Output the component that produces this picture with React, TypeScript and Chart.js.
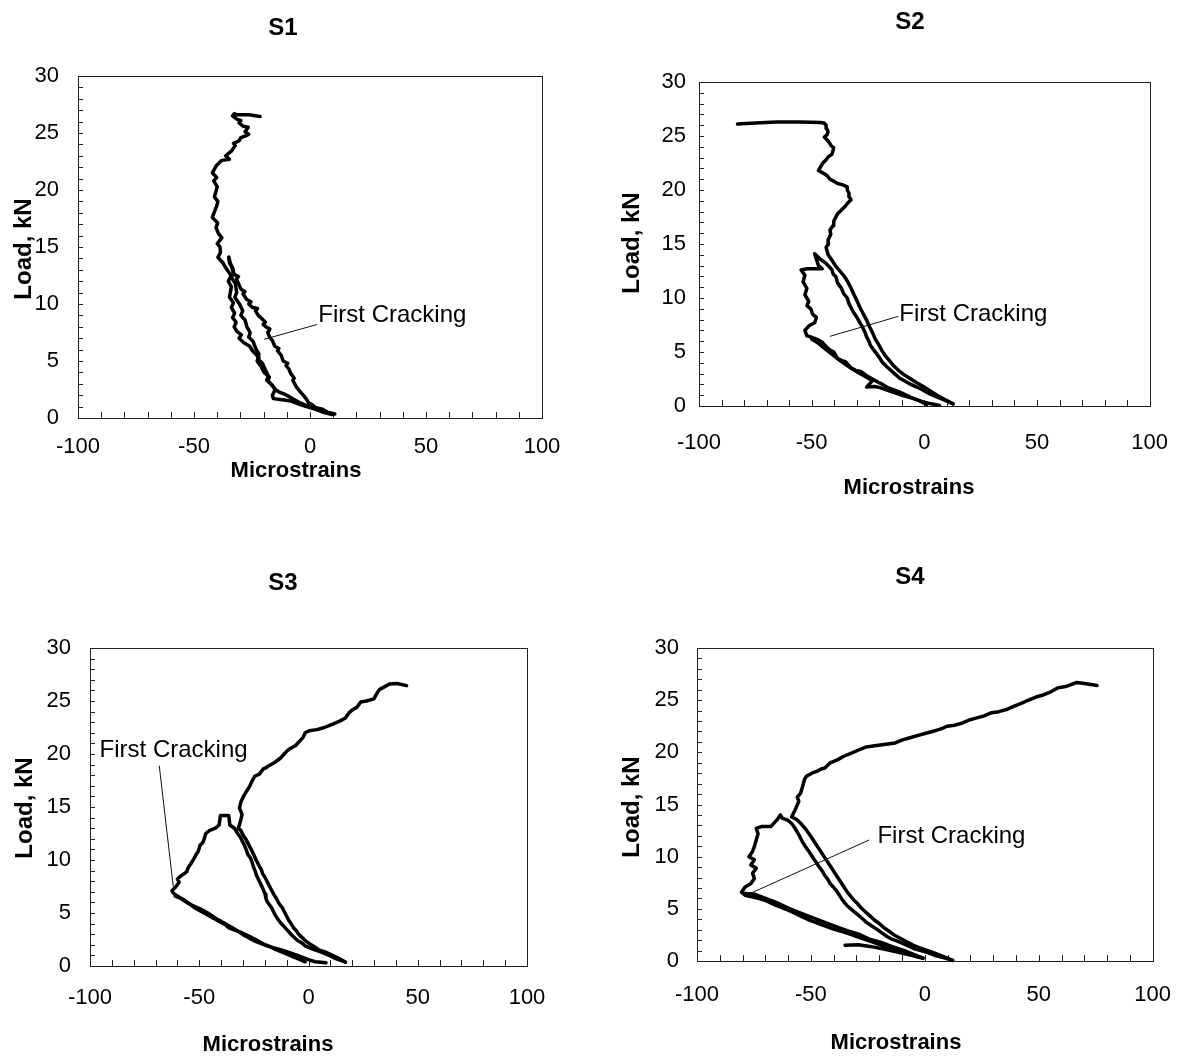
import React, { useEffect, useRef } from "react";
import { Chart, registerables } from "chart.js";

Chart.register(...registerables);

type P = [number, number];

// ---------- text ----------
const panelTitles = ["S1", "S2", "S3", "S4"];
const xAxisTitle = "Microstrains";
const yAxisTitle = "Load, kN";
const noteText = "First Cracking";

// ---------- axes ----------
const xMin = -100;
const xMax = 100;
const xLabelStep = 50;
const xMinorStep = 10;
const yMin = 0;
const yMax = 30;
const yLabelStep = 5;
const yMinorStep = 1;

// ---------- S1 data (microstrain, load kN) ----------
const s1FirstLoad: P[] = [
  [10.7, 0.35], [7.5, 0.5], [5.0, 0.8], [2.5, 0.9], [0.8, 1.2], [-0.5, 1.3], [-1.7, 1.7], [-3.3, 2.1],
  [-4.2, 2.3], [-5.8, 2.7], [-7.4, 3.3], [-6.8, 3.5], [-8.3, 3.9], [-9.1, 4.3], [-10.3, 4.6], [-9.6, 4.8],
  [-11.6, 5.0], [-12.4, 5.5], [-14.0, 5.9], [-13.4, 6.1], [-15.2, 6.3], [-16.2, 6.8], [-17.4, 7.1], [-18.2, 7.5],
  [-17.3, 7.8], [-19.0, 8.0], [-20.2, 8.2], [-19.2, 8.4], [-20.7, 8.7], [-22.3, 9.0], [-23.5, 9.4], [-22.6, 9.6],
  [-24.8, 9.7], [-26.4, 10.0], [-25.4, 10.2], [-27.3, 10.4], [-28.9, 10.9], [-28.0, 11.1], [-29.8, 11.3], [-30.6, 11.7],
  [-31.7, 12.2], [-30.8, 12.4], [-32.7, 12.6], [-33.4, 13.2], [-34.7, 13.6], [-35.0, 14.1],
];
const s1Unload: P[] = [
  [-35.0, 14.1], [-34.2, 13.5], [-33.0, 12.8], [-33.8, 12.3], [-32.2, 11.8], [-31.6, 11.0], [-32.4, 10.6], [-30.4, 10.0],
  [-29.0, 9.4], [-29.8, 9.0], [-28.0, 8.6], [-27.2, 8.0], [-25.8, 7.5], [-26.4, 7.1], [-24.5, 6.7], [-23.4, 6.1],
  [-22.0, 5.6], [-22.6, 5.2], [-20.5, 4.8], [-19.2, 4.2], [-18.0, 3.7], [-18.6, 3.3], [-16.4, 2.9], [-15.0, 2.5],
  [-16.2, 2.0], [-15.8, 1.7], [-12.0, 1.6], [-8.3, 1.5], [-4.5, 1.2], [-1.5, 1.0], [2.0, 0.8], [5.5, 0.6], [9.5, 0.35],
];
const s1FinalLoad: P[] = [
  [9.5, 0.3], [5, 0.55], [0, 0.95], [-4, 1.3], [-8, 1.75], [-11, 2.1], [-13.5, 2.3], [-14.9, 2.5],
  [-16.5, 2.9], [-18.2, 3.3], [-17.5, 3.6], [-19.8, 4.0], [-21.0, 4.5], [-22.8, 5.0], [-22.0, 5.3], [-24.8, 5.9],
  [-26.0, 6.3], [-28.5, 6.6], [-30.6, 7.0], [-29.6, 7.3], [-31.5, 7.6], [-32.7, 8.0], [-31.8, 8.4], [-33.4, 8.8],
  [-32.5, 9.2], [-33.9, 9.7], [-33.0, 10.1], [-34.7, 10.6], [-33.9, 11.5], [-35.2, 12.0], [-34.0, 12.5], [-36.4, 13.2],
  [-37.5, 13.6], [-39.7, 14.1], [-38.6, 14.5], [-38.8, 15.0], [-40.0, 15.3], [-38.0, 15.8], [-39.5, 16.2], [-40.5, 16.7],
  [-39.8, 17.1], [-42.1, 17.6], [-41.0, 18.2], [-40.2, 18.6], [-39.7, 19.0], [-41.2, 19.4], [-40.5, 19.9], [-40.0, 20.3],
  [-41.5, 20.8], [-40.2, 21.1], [-42.1, 21.5], [-41.3, 21.8], [-40.5, 22.1], [-38.0, 22.6], [-34.7, 22.7], [-36.4, 23.0],
  [-33.9, 23.4], [-32.2, 23.9], [-33.0, 24.1], [-30.6, 24.3], [-29.8, 24.6], [-27.2, 24.8], [-26.4, 24.9], [-28.0, 25.1],
  [-27.3, 25.3], [-26.6, 25.5], [-28.9, 25.6], [-30.6, 25.9], [-29.8, 26.1], [-31.4, 26.2], [-33.4, 26.5], [-32.6, 26.7],
  [-31.4, 26.6], [-26.4, 26.6], [-21.5, 26.45],
];

// ---------- S2 data ----------
const s2FirstCycle: P[] = [
  [1.0, 0.15], [-0.9, 0.36], [-3.5, 0.6], [-6, 0.8], [-8.5, 1.05], [-11.1, 1.3], [-13.5, 1.5], [-16.2, 1.7],
  [-18.5, 2.0], [-20.5, 2.2], [-23, 2.5], [-25.6, 2.8], [-28.2, 3.2], [-30.5, 3.3], [-32.5, 3.5], [-35, 4.1],
  [-36.5, 4.2], [-38.5, 4.4], [-40.2, 5.0], [-42, 5.2], [-43.6, 5.5], [-45.3, 5.9], [-47.9, 6.2], [-50.4, 6.4],
  [-52.1, 6.5], [-53, 7.0], [-51.3, 7.4], [-48.7, 7.7], [-47.9, 8.2], [-49.6, 8.5], [-50.4, 9.0], [-52.1, 9.3],
  [-51.3, 9.7], [-53, 10.3], [-52.1, 10.9], [-53.8, 11.5], [-53, 12.1], [-54.7, 12.6], [-52, 12.7], [-49.6, 12.7],
  [-45.3, 12.7], [-47, 13.0], [-47.9, 13.6], [-48.7, 14.1], [-46.2, 13.6], [-43.6, 13.2], [-42.2, 12.9], [-41, 12.6],
  [-40.4, 12.2], [-39.3, 12.0], [-38.5, 11.4], [-36.8, 10.9], [-35.8, 10.4], [-34.2, 10.0], [-33.5, 9.5], [-32.5, 9.1],
  [-31.5, 8.7], [-29.9, 8.2], [-28.8, 7.8], [-27.4, 7.3], [-26.5, 6.9], [-25.6, 6.4], [-24.6, 6.0], [-23.9, 5.6],
  [-22.5, 5.2], [-21.4, 4.9], [-20.0, 4.5], [-18.8, 4.1], [-17.0, 3.7], [-15.4, 3.4], [-13.2, 3.0], [-11.1, 2.6],
  [-8.5, 2.3], [-6, 2.0], [-3.8, 1.8], [-1.7, 1.6], [0.5, 1.35], [2.6, 1.1], [5, 0.9], [7.7, 0.66], [10, 0.45], [12.8, 0.2],
];
const s2FinalLoad: P[] = [
  [12.8, 0.2], [9.5, 0.55], [6, 0.95], [3, 1.35], [0, 1.75], [-3, 2.1], [-6, 2.5], [-9, 2.9],
  [-11.5, 3.3], [-13.5, 3.7], [-15.5, 4.2], [-17.5, 4.7], [-19, 5.2], [-20.3, 5.7], [-21.8, 6.2], [-23, 6.8],
  [-24.2, 7.3], [-25.5, 7.9], [-27, 8.5], [-28.5, 9.1], [-29.8, 9.7], [-31.2, 10.3], [-32.5, 10.9], [-34, 11.5],
  [-35.5, 12.0], [-37.5, 12.5], [-39.5, 13.0], [-41, 13.5], [-42.7, 14.0], [-43.6, 14.7], [-42.5, 15.0], [-42.7, 15.4],
  [-41.5, 15.9], [-41.9, 16.3], [-40.5, 16.7], [-40.2, 17.1], [-39.5, 17.4], [-38.5, 17.8], [-37, 18.1], [-35.1, 18.5],
  [-34, 18.8], [-32.5, 19.1], [-33.5, 19.4], [-33.4, 19.7], [-34.2, 20.0], [-34.2, 20.3], [-36.5, 20.5], [-38.5, 20.6],
  [-40, 20.8], [-41.9, 21.0], [-43, 21.3], [-44.4, 21.5], [-46, 21.7], [-47, 21.8], [-46.2, 22.1], [-45, 22.5],
  [-43.6, 22.8], [-42.5, 23.1], [-41, 23.3], [-40.2, 23.9], [-41.3, 24.1], [-41.9, 24.3], [-43, 24.6], [-44.4, 24.9],
  [-43.2, 25.1], [-42.7, 25.4], [-43.3, 25.7], [-43.6, 26.0], [-44.5, 26.2], [-46.2, 26.25], [-55, 26.3], [-65.8, 26.3],
  [-75, 26.2], [-82.9, 26.1],
];
const s2LowerReturn: P[] = [
  [-50, 6.2], [-47, 5.8], [-44, 5.3], [-41, 4.8], [-38, 4.3], [-35, 3.85], [-32, 3.45], [-29, 3.05],
  [-26, 2.7], [-23, 2.35], [-25.6, 1.75], [-22, 1.8], [-19.7, 1.7], [-15, 1.35], [-10, 1.0], [-5, 0.7],
  [-0.9, 0.4], [3, 0.2], [6.8, 0.06],
];

// ---------- S3 data ----------
const s3FirstCycle: P[] = [
  [-1.5, 0.4], [-5, 0.7], [-8.5, 1.0], [-12, 1.3], [-15.5, 1.6], [-18, 1.85], [-20.7, 2.1], [-23, 2.35],
  [-25.1, 2.6], [-28, 2.9], [-31.2, 3.2], [-34, 3.4], [-36.5, 3.6], [-38, 3.9], [-40, 4.1], [-42, 4.35],
  [-44.4, 4.6], [-46.5, 4.85], [-48.7, 5.1], [-50.5, 5.3], [-52.2, 5.5], [-54, 5.8], [-55.7, 6.0], [-57.5, 6.25],
  [-59.2, 6.5], [-60.8, 6.7], [-61.9, 6.9], [-62.5, 7.1], [-61, 7.4], [-59.2, 7.9], [-60, 8.2], [-58.4, 8.5],
  [-57, 8.7], [-55.7, 8.9], [-55, 9.3], [-54, 9.6], [-52.2, 10.2], [-51.5, 10.5], [-50.5, 10.8], [-49.6, 11.4],
  [-48.5, 11.6], [-47.9, 11.9], [-47, 12.5], [-45.2, 12.8], [-42.6, 13.0], [-40.9, 13.3], [-40.3, 14.2], [-36.5, 14.2],
  [-36, 13.3], [-33.9, 13.0], [-32.1, 12.4], [-31, 12.1], [-30.4, 11.8], [-29.3, 11.4], [-28.6, 11.0], [-27.7, 10.5],
  [-26.6, 10.2], [-26, 9.9], [-25.1, 9.3], [-24.5, 9.0], [-23.9, 8.6], [-22.5, 8.0], [-21.8, 7.7], [-21.1, 7.4],
  [-19.9, 6.8], [-19.5, 6.4], [-19, 6.1], [-16.9, 5.5], [-15.5, 4.9], [-14.3, 4.5], [-12.9, 4.1], [-10.2, 3.5],
  [-7.6, 2.9], [-5, 2.4], [-3.2, 2.2], [-1.5, 1.9], [2, 1.6], [4.6, 1.4], [7.3, 1.2], [10, 0.95], [12.5, 0.7], [16.9, 0.37],
];
const s3FinalLoad: P[] = [
  [16.9, 0.37], [14, 0.7], [11, 1.0], [8, 1.3], [5, 1.5], [2.5, 1.85], [0.5, 2.1], [-1.5, 2.4],
  [-3, 2.7], [-4.5, 3.0], [-5.5, 3.3], [-6.8, 3.6], [-8, 4.0], [-9, 4.3], [-10, 4.7], [-11, 5.1],
  [-12, 5.5], [-13.5, 5.9], [-14.5, 6.3], [-16, 6.8], [-17, 7.2], [-18, 7.6], [-19, 8.0], [-20, 8.4],
  [-21, 8.7], [-21.6, 9.1], [-22.5, 9.4], [-23.2, 9.7], [-24, 10.0], [-24.8, 10.4], [-25.5, 10.7], [-26.5, 11.1],
  [-27.5, 11.5], [-28.5, 11.9], [-29.5, 12.2], [-30.3, 12.5], [-31, 12.8], [-32.1, 13.0], [-31.2, 13.6], [-30.4, 14.3],
  [-31.6, 14.9], [-30.9, 15.5], [-29.5, 16.1], [-28.6, 16.4], [-27.7, 16.7], [-26.8, 17.0], [-26, 17.4], [-24.6, 17.9],
  [-22.5, 18.1], [-20.7, 18.6], [-19.5, 18.7], [-18.1, 18.9], [-15.5, 19.2], [-12.9, 19.6], [-11.1, 20.0], [-9.8, 20.3],
  [-8.5, 20.5], [-5.9, 20.8], [-4.1, 21.2], [-2.4, 21.6], [-1.5, 22.0], [0.3, 22.2], [3.8, 22.3], [7.3, 22.5],
  [10.8, 22.8], [14.3, 23.1], [16.9, 23.4], [18.6, 23.9], [20.4, 24.2], [22.1, 24.4], [23.9, 24.9], [26.5, 25.0],
  [30, 25.2], [30.9, 25.6], [32.6, 26.1], [35.3, 26.4], [37, 26.6], [40.5, 26.65], [44.9, 26.45],
];
const s3LowerReturn: P[] = [
  [-61, 6.6], [-57.5, 6.3], [-54, 5.8], [-49.6, 5.4], [-46.1, 5.0], [-41.7, 4.4], [-38.2, 4.0], [-33.9, 3.5],
  [-29.5, 2.9], [-25.1, 2.4], [-19, 1.9], [-12, 1.5], [-5, 1.0], [0, 0.6], [3, 0.4], [8, 0.3],
];

// ---------- S4 data ----------
const s4FirstCycle: P[] = [
  [-0.8, 0.25], [-3.3, 0.4], [-6.5, 0.65], [-9.8, 0.9], [-13, 1.1], [-16.3, 1.3], [-19.5, 1.55], [-22.8, 1.8],
  [-26, 2.05], [-29.3, 2.3], [-32.5, 2.55], [-35.8, 2.8], [-38.3, 2.95], [-40.7, 3.1], [-43, 3.3], [-45.5, 3.5],
  [-48, 3.7], [-50.4, 3.9], [-53, 4.15], [-55.3, 4.4], [-57.8, 4.65], [-60.2, 4.9], [-62.5, 5.1], [-65, 5.3],
  [-67.5, 5.55], [-69.9, 5.8], [-72.3, 5.95], [-74.8, 6.1], [-77, 6.2], [-78.9, 6.3], [-80.5, 6.6], [-78.9, 7.1],
  [-76.4, 7.4], [-74.8, 7.9], [-75.6, 8.4], [-74, 8.9], [-76.4, 9.2], [-74.8, 9.7], [-77.2, 10.0], [-75.6, 10.5],
  [-74.8, 11.0], [-74, 11.6], [-73.2, 12.2], [-74, 12.7], [-71.5, 12.9], [-67.5, 12.9], [-65, 13.5], [-63.4, 14.0],
  [-62.6, 13.7], [-60.2, 13.5], [-58.5, 13.2], [-56.9, 12.7], [-55.3, 12.1], [-53.7, 11.4], [-52.5, 11.0], [-51.2, 10.6],
  [-50, 10.2], [-48.8, 9.8], [-47.5, 9.4], [-46.3, 9.0], [-45, 8.6], [-43.9, 8.2], [-42.5, 7.8], [-41.5, 7.4],
  [-40.2, 7.1], [-39, 6.8], [-37.8, 6.4], [-36.6, 6.0], [-35.3, 5.6], [-34.1, 5.3], [-32.5, 5.0], [-30.9, 4.7],
  [-29.2, 4.4], [-27.6, 4.1], [-25.6, 3.7], [-23.6, 3.4], [-21.5, 3.1], [-19.5, 2.8], [-17, 2.4], [-14.6, 2.1],
  [-12, 1.9], [-9.8, 1.7], [-7.4, 1.45], [-4.9, 1.2], [-2.5, 1.05], [0, 0.9], [2.5, 0.7], [4.9, 0.5], [8.5, 0.3], [12.2, 0.06],
];
const s4FinalLoad: P[] = [
  [12.2, 0.06], [9, 0.35], [5.5, 0.65], [2, 0.95], [-1.6, 1.2], [-5, 1.5], [-8, 1.85], [-11, 2.2],
  [-13.5, 2.5], [-16, 2.9], [-18, 3.2], [-20, 3.6], [-22, 3.9], [-24, 4.3], [-26, 4.7], [-28, 5.1],
  [-29.5, 5.5], [-31, 5.8], [-32.5, 6.2], [-34, 6.6], [-35.5, 7.1], [-37, 7.6], [-38.5, 8.1], [-40, 8.6],
  [-41.5, 9.1], [-43, 9.6], [-44.5, 10.1], [-46, 10.6], [-47.5, 11.1], [-49, 11.6], [-50.5, 12.1], [-52.5, 12.7],
  [-54.5, 13.2], [-56.5, 13.6], [-58.5, 13.8], [-56.9, 14.5], [-55.3, 15.3], [-56, 15.7], [-54.5, 16.1], [-53.7, 16.7],
  [-52.8, 17.4], [-52, 17.7], [-49.6, 18.0], [-47.2, 18.2], [-45.5, 18.4], [-43.9, 18.5], [-41.5, 19.0], [-38.2, 19.3],
  [-35.8, 19.6], [-32.5, 19.9], [-29.3, 20.2], [-26, 20.5], [-22.8, 20.6], [-19.5, 20.7], [-16.3, 20.8], [-13, 20.9],
  [-9.8, 21.2], [-6.5, 21.4], [-3.3, 21.6], [0, 21.8], [3.3, 22.0], [6.5, 22.2], [9.8, 22.5], [13, 22.6],
  [16.3, 22.8], [19.5, 23.1], [22.8, 23.3], [26, 23.5], [29.3, 23.8], [32.5, 23.9], [35.8, 24.1], [39, 24.4],
  [42.3, 24.7], [45.5, 25.0], [48.8, 25.3], [52, 25.5], [55.3, 25.8], [58.5, 26.2], [61.8, 26.3], [64.2, 26.5],
  [66.7, 26.7], [70, 26.6], [75.6, 26.4],
];
const s4LowerReturn: P[] = [
  [-79.7, 6.5], [-74.8, 6.4], [-69.9, 6.0], [-65, 5.6], [-60.2, 5.1], [-54.5, 4.6], [-48.8, 4.1], [-43.9, 3.7],
  [-39, 3.3], [-34.1, 2.9], [-29.3, 2.6], [-24.4, 2.1], [-19.5, 1.8], [-14.6, 1.4], [-8.9, 1.0], [-3.3, 0.5], [-0.8, 0.3],
];
const s4Tail: P[] = [
  [-35, 1.5], [-29.3, 1.55], [-24, 1.4], [-18, 1.15], [-12, 0.85], [-6, 0.55], [-1, 0.3],
];

const panelSeries: P[][][] = [
  [s1FirstLoad, s1Unload, s1FinalLoad],
  [s2FirstCycle, s2FinalLoad, s2LowerReturn],
  [s3FirstCycle, s3FinalLoad, s3LowerReturn],
  [s4FirstCycle, s4FinalLoad, s4LowerReturn, s4Tail],
];

// ---------- layout (page pixels) ----------
interface Layout {
  cx: number; cy: number; cw: number; ch: number;
  l: number; r: number; t: number; b: number;
  title: [number, number]; yTitle: [number, number]; xTitle: [number, number];
  yPad: number; xPad: number;
  note: [number, number]; leaderFrom: [number, number]; leaderTo: [number, number]; // data coords
}

const layouts: Layout[] = [
  { cx: 0, cy: 0, cw: 596, ch: 530, l: 78, r: 542, t: 76, b: 418, title: [283, 28], yTitle: [24, 249], xTitle: [296, 471], yPad: 19, xPad: 16,
    note: [3.6, 9.0], leaderFrom: [3.0, 8.2], leaderTo: [-19.8, 6.9] },
  { cx: 596, cy: 0, cw: 596, ch: 530, l: 699, r: 1150, t: 82, b: 406, title: [910, 22], yTitle: [632, 243], xTitle: [909, 488], yPad: 13, xPad: 24,
    note: [-11.1, 8.5], leaderFrom: [-11.5, 8.3], leaderTo: [-41.9, 6.45] },
  { cx: 0, cy: 530, cw: 596, ch: 531, l: 90, r: 527, t: 648, b: 966, title: [283, 583], yTitle: [25, 808], xTitle: [268, 1045], yPad: 19, xPad: 19,
    note: [-95.6, 20.3], leaderFrom: [-68.3, 18.9], leaderTo: [-61.9, 7.5] },
  { cx: 596, cy: 530, cw: 596, ch: 531, l: 697, r: 1165, t: 648, b: 961, title: [910, 577], yTitle: [632, 807], xTitle: [896, 1043], yPad: 18, xPad: 21,
    note: [-20.8, 11.9], leaderFrom: [-24.4, 11.6], leaderTo: [-76.4, 6.5] },
];

const Y_AXIS_W = 50;
const X_AXIS_H = 50;
const FONT = '"Liberation Sans", Arial, Helvetica, sans-serif';
const TICK_SIZE = 22;

const decorPlugin = {
  id: "decor",
  beforeDatasetsDraw(chart: any) {
    const { ctx, chartArea: a, scales } = chart;
    ctx.save();
    ctx.strokeStyle = "#222";
    ctx.lineWidth = 1;
    ctx.strokeRect(Math.round(a.left) + 0.5, Math.round(a.top) + 0.5, Math.round(a.right - a.left), Math.round(a.bottom - a.top));
    ctx.beginPath();
    for (let v = xMin; v <= xMax; v += xMinorStep) {
      const x = Math.round(scales.x.getPixelForValue(v)) + 0.5;
      ctx.moveTo(x, a.bottom);
      ctx.lineTo(x, a.bottom - 6);
    }
    for (let v = yMin; v <= yMax; v += yMinorStep) {
      const y = Math.round(scales.y.getPixelForValue(v)) + 0.5;
      ctx.moveTo(a.left, y);
      ctx.lineTo(a.left + 5, y);
    }
    ctx.stroke();
    ctx.restore();
  },
  afterDraw(chart: any, _args: any, opts: any) {
    const { ctx, scales } = chart;
    const L: Layout = opts.layout;
    const title: string = opts.title;
    ctx.save();
    ctx.fillStyle = "#000";
    ctx.textAlign = "center";
    ctx.textBaseline = "middle";
    ctx.font = `bold 24px ${FONT}`;
    ctx.fillText(title, L.title[0] - L.cx, L.title[1] - L.cy);
    ctx.font = `bold 22px ${FONT}`;
    ctx.fillText(xAxisTitle, L.xTitle[0] - L.cx, L.xTitle[1] - L.cy);
    ctx.font = `bold 24px ${FONT}`;
    ctx.save();
    ctx.translate(L.yTitle[0] - L.cx, L.yTitle[1] - L.cy);
    ctx.rotate(-Math.PI / 2);
    ctx.fillText(yAxisTitle, 0, 0);
    ctx.restore();
    // annotation
    ctx.font = `24px ${FONT}`;
    ctx.textAlign = "left";
    ctx.fillText(noteText, scales.x.getPixelForValue(L.note[0]), scales.y.getPixelForValue(L.note[1]));
    ctx.strokeStyle = "#111";
    ctx.lineWidth = 1;
    ctx.beginPath();
    ctx.moveTo(scales.x.getPixelForValue(L.leaderFrom[0]), scales.y.getPixelForValue(L.leaderFrom[1]));
    ctx.lineTo(scales.x.getPixelForValue(L.leaderTo[0]), scales.y.getPixelForValue(L.leaderTo[1]));
    ctx.stroke();
    ctx.restore();
  },
};

function Panel({ idx }: { idx: number }) {
  const ref = useRef<HTMLCanvasElement | null>(null);
  const L = layouts[idx];
  useEffect(() => {
    if (!ref.current) return;
    const datasets = panelSeries[idx].map((s) => ({
      data: s.map(([x, y]) => ({ x, y })),
      showLine: true,
      borderColor: "#000",
      backgroundColor: "#000",
      borderWidth: 3.5,
      pointRadius: 0,
      tension: 0,
      borderJoinStyle: "round" as const,
      borderCapStyle: "round" as const,
      clip: 6,
    }));
    const chart = new Chart(ref.current, {
      type: "scatter",
      data: { datasets },
      plugins: [decorPlugin],
      options: {
        animation: false,
        responsive: false,
        devicePixelRatio: 1,
        layout: {
          padding: {
            left: L.l - L.cx - Y_AXIS_W,
            right: L.cx + L.cw - L.r,
            top: L.t - L.cy,
            bottom: L.cy + L.ch - L.b - X_AXIS_H,
          },
        },
        plugins: {
          legend: { display: false },
          tooltip: { enabled: false },
          decor: { layout: L, title: panelTitles[idx] },
        } as any,
        scales: {
          x: {
            type: "linear",
            min: xMin,
            max: xMax,
            border: { display: false },
            grid: { display: false, drawTicks: false },
            ticks: { stepSize: xLabelStep, color: "#000", font: { family: FONT, size: TICK_SIZE }, padding: L.xPad, maxRotation: 0, autoSkip: false },
            afterFit: (s: any) => { s.height = X_AXIS_H; },
          },
          y: {
            type: "linear",
            min: yMin,
            max: yMax,
            border: { display: false },
            grid: { display: false, drawTicks: false },
            ticks: { stepSize: yLabelStep, color: "#000", font: { family: FONT, size: TICK_SIZE }, padding: L.yPad, autoSkip: false },
            afterFit: (s: any) => { s.width = Y_AXIS_W; },
          },
        },
      },
    });
    return () => chart.destroy();
  }, [idx]);
  return (
    <canvas
      ref={ref}
      width={L.cw}
      height={L.ch}
      style={{ position: "absolute", left: L.cx, top: L.cy, width: L.cw, height: L.ch }}
    />
  );
}

export default function App() {
  return (
    <div style={{ position: "absolute", left: 0, top: 0, width: 1192, height: 1061, background: "#fff" }}>
      {layouts.map((_, i) => (
        <Panel key={i} idx={i} />
      ))}
    </div>
  );
}
